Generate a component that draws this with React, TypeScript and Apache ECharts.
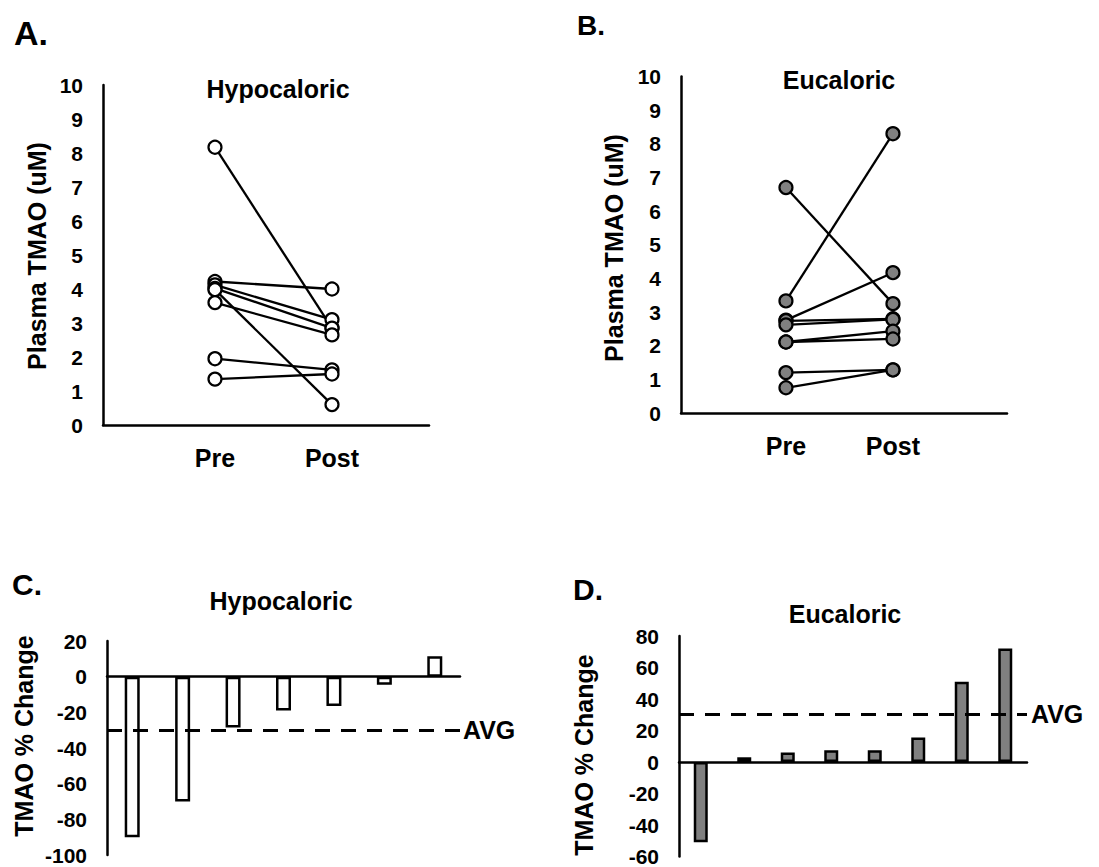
import React, { useEffect, useRef } from 'react';
import * as echarts from 'echarts';

const FONT = "'Liberation Sans', Arial, Helvetica, sans-serif";

// Panel A – Hypocaloric, plasma TMAO (uM), Pre -> Post per subject
const hypoPre = [8.17, 4.22, 4.12, 4.02, 3.98, 3.6, 1.95, 1.35];
const hypoPost = [2.85, 4.0, 3.1, 2.85, 0.6, 2.65, 1.62, 1.5];

// Panel B – Eucaloric, plasma TMAO (uM), Pre -> Post per subject
const euPre = [6.7, 3.33, 2.76, 2.74, 2.62, 2.11, 2.11, 1.2, 0.75];
const euPost = [3.25, 8.3, 4.17, 2.8, 2.78, 2.43, 2.2, 1.28, 1.28];

const timeLabels = ['Pre', 'Post'];

// Panel C – Hypocaloric, TMAO % change per subject
const hypoChange = [-90, -70, -28.5, -19, -16.5, -4.5, 11.5];
const hypoAvg = -30;

// Panel D – Eucaloric, TMAO % change per subject
const euChange = [-51, 3, 6, 7.5, 7.5, 15.5, 51, 72];
const euAvg = 30.5;

const axisLine = { show: true, onZero: true, lineStyle: { color: '#000', width: 2.5 } };
const tickLabel = { fontSize: 21, fontWeight: 'bold', color: '#000', fontFamily: FONT, margin: 20 };

function pairSeries(pre: number[], post: number[], idx: number, fill: string) {
  return pre.map((p, i) => ({
    type: 'line',
    xAxisIndex: idx,
    yAxisIndex: idx,
    data: [
      [1, p],
      [2, post[i]],
    ],
    symbol: 'circle',
    symbolSize: 13,
    lineStyle: { color: '#000', width: 2.3 },
    itemStyle: { color: fill, borderColor: '#000', borderWidth: 2.2 },
    emphasis: { disabled: true },
  }));
}

function barSeries(values: number[], avg: number, idx: number, fill: string, barWidth: number, dist: number) {
  return {
    type: 'bar',
    xAxisIndex: idx,
    yAxisIndex: idx,
    data: values,
    barWidth,
    itemStyle: { color: fill, borderColor: '#000', borderWidth: 2.5 },
    emphasis: { disabled: true },
    markLine: {
      silent: true,
      symbol: ['none', 'none'],
      data: [{ yAxis: avg }],
      lineStyle: { type: [15, 11], width: 3, color: '#000' },
      label: {
        show: true,
        position: 'end',
        formatter: 'AVG',
        fontSize: 25,
        fontWeight: 'bold',
        color: '#000',
        fontFamily: FONT,
        distance: dist,
      },
    },
  };
}

function txt(text: string, x: number, y: number, size: number, align = 'center', rotation = 0) {
  return {
    type: 'text',
    x,
    y,
    rotation,
    style: {
      text,
      fontSize: size,
      fontWeight: 'bold',
      fontFamily: FONT,
      fill: '#000',
      textAlign: align,
      textVerticalAlign: 'middle',
    },
  };
}

export default function App() {
  const ref = useRef<HTMLDivElement>(null);
  useEffect(() => {
    document.body.style.margin = '0';
    const chart = echarts.init(ref.current!, null, { renderer: 'svg' });
    const valueX = (idx: number, min: number, max: number) => ({
      gridIndex: idx,
      type: 'value',
      min,
      max,
      axisLine: { ...axisLine, onZero: false },
      axisTick: { show: false },
      splitLine: { show: false },
      axisLabel: {
        ...tickLabel,
        fontSize: 25,
        margin: 20,
        customValues: [1, 2],
        formatter: (v: number) => timeLabels[Math.round(v) - 1] || '',
      },
    });
    const valueY = (idx: number, min: number, max: number, interval: number) => ({
      gridIndex: idx,
      type: 'value',
      min,
      max,
      interval,
      axisLine: { ...axisLine, onZero: false },
      axisTick: { show: false },
      splitLine: { show: false },
      axisLabel: { ...tickLabel },
    });
    const catX = (idx: number, values: number[]) => ({
      gridIndex: idx,
      type: 'category',
      data: values.map((_, i) => String(i + 1)),
      axisLine,
      axisTick: { show: false },
      axisLabel: { show: false },
      splitLine: { show: false },
    });

    chart.setOption({
      animation: false,
      backgroundColor: '#fff',
      grid: [
        { left: 103, top: 85, width: 326, height: 340 },
        { left: 681, top: 76.5, width: 326, height: 336.5 },
        { left: 107, top: 641, width: 353, height: 214 },
        { left: 679, top: 636, width: 348, height: 224 },
      ],
      xAxis: [valueX(0, 0.043, 2.829), valueX(1, 0.019, 3.066), catX(2, hypoChange), catX(3, euChange)],
      yAxis: [valueY(0, 0, 10, 1), valueY(1, 0, 10, 1), valueY(2, -100, 20, 20), valueY(3, -60, 80, 20)],
      series: [
        ...pairSeries(hypoPre, hypoPost, 0, '#ffffff'),
        ...pairSeries(euPre, euPost, 1, '#808080'),
        barSeries(hypoChange, hypoAvg, 2, '#ffffff', 15, 3),
        barSeries(euChange, euAvg, 3, '#808080', 14, 4),
      ],
      graphic: [
        txt('A.', 14, 33, 34, 'left'),
        txt('B.', 577, 25, 28, 'left'),
        txt('C.', 12, 584, 30, 'left'),
        txt('D.', 573, 589, 30, 'left'),
        txt('Hypocaloric', 278, 89, 25),
        txt('Eucaloric', 839, 80, 25),
        txt('Hypocaloric', 281, 601, 25),
        txt('Eucaloric', 845, 614, 25),
        txt('Plasma TMAO (uM)', 37, 256, 25, 'center', Math.PI / 2),
        txt('Plasma TMAO (uM)', 614, 248, 25, 'center', Math.PI / 2),
        txt('TMAO % Change', 24, 736, 25, 'center', Math.PI / 2),
        txt('TMAO % Change', 584, 755, 25, 'center', Math.PI / 2),
      ],
    });
    return () => chart.dispose();
  }, []);
  return <div ref={ref} style={{ width: 1099, height: 867 }} />;
}
